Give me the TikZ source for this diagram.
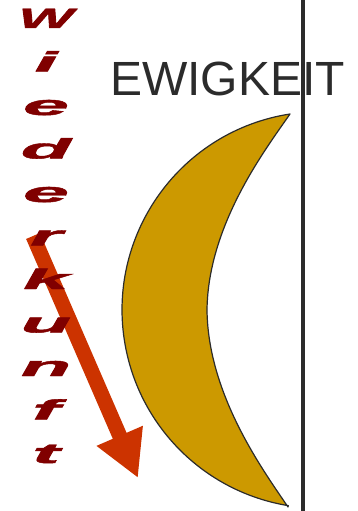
\documentclass[tikz,border=0pt]{standalone}
\usepackage{fontspec}
\setmainfont{Liberation Sans}
\newfontfamily\heavyfont{Liberation Sans Bold Italic}[FakeBold=1.5]
\usetikzlibrary{arrows.meta}
\definecolor{InkGray}{HTML}{2B2B2B}
\definecolor{MoonGold}{HTML}{CC9900}
\definecolor{ArrowRed}{HTML}{CC3300}
\definecolor{LetterRed}{HTML}{800000}
\tikzset{
  wletter/.style={anchor=base, inner sep=0pt, text=LetterRed,
    font=\fontsize{20}{20}\selectfont\heavyfont},
  title/.style={anchor=base west, inner sep=0pt, text=InkGray,
    font=\fontsize{48}{48}\selectfont},
  moon/.style={draw=InkGray, line width=1.2pt, fill=MoonGold, line join=round},
  pfeil/.style={-{Triangle[length=46pt, width=47pt]}, line width=15pt, draw=ArrowRed},
  rule/.style={draw=InkGray, line width=3.5pt},
}

\begin{document}
\begin{tikzpicture}[x=1pt, y=-1pt]
    \useasboundingbox (0,0) rectangle (358,511);
    % coordinates
    \coordinate (mtop) at (290,114);
    \coordinate (mbot) at (288,507);
    \coordinate (astart) at (33,236);
    \coordinate (atip) at (138,478);
    \coordinate (rtop) at (303,0);
    \coordinate (rbot) at (303,511);
    % crescent
    \draw[moon] (mtop) arc[start angle=98.8, end angle=260.7, radius=198.3pt]
      -- (mbot) .. controls (263,470) and (208,395) .. (207,310)
      .. controls (208,225) and (265,150) .. (mtop) -- cycle;
    \node[title] (ewig) at (110,95) {EWIGKEIT};
    % arrow
    \draw[pfeil] (astart) -- (atip);
    % vertical letters
    \foreach \ch/\sx [count=\i] in {W/2.9,i/4.1,e/4.1,d/4.1,e/4.1,r/4.1,k/4.1,u/4.1,n/4.1,f/4.1,t/4.1}
      \node[wletter] (w\i) at (46,{28+43.5*(\i-1)}) {\scalebox{\sx}[1.4]{\ch}};
    \draw[rule] (rtop) -- (rbot);
  \end{tikzpicture}
\end{document}
